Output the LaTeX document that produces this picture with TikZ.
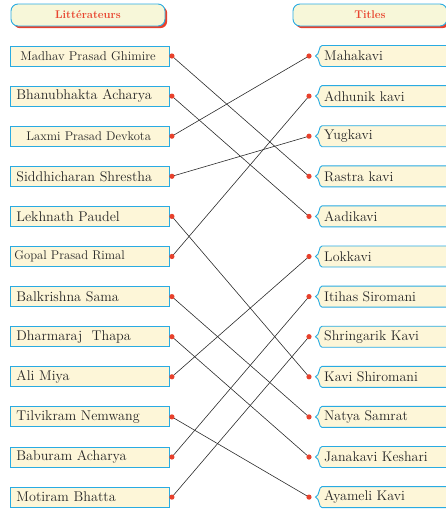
\documentclass[tikz,border=0pt]{standalone}
\usetikzlibrary{shadows}
\definecolor{bord}{HTML}{29ABE2}
\definecolor{cream}{HTML}{FDF6D8}
\definecolor{hcream}{HTML}{F7F7D9}
\definecolor{dotred}{HTML}{E8412C}
\definecolor{titred}{HTML}{E8452F}
\definecolor{conn}{HTML}{2B2B2B}
\begin{document}
\begin{tikzpicture}[x=1pt,y=-1pt,
  lbox/.style={draw=bord, fill=cream, line width=0.9pt, minimum height=20pt,
    align=left, inner ysep=0pt, anchor=west, text=black!85},
  rframe/.style={draw=bord, fill=cream, line width=0.9pt},
  rtext/.style={anchor=west, inner sep=0pt, text=black!85},
  hbox/.style={draw=bord, fill=hcream, line width=0.9pt, rounded corners=7pt,
    minimum width=154pt, minimum height=22pt, inner sep=0pt,
    text=titred,
    drop shadow={shadow xshift=2.2pt, shadow yshift=-2.2pt, fill=dotred, opacity=1}},
  connline/.style={draw=conn, line width=0.6pt},
  dot/.style={fill=dotred}]
\useasboundingbox (0,0) rectangle (446,509);
\clip (0,0) rectangle (446,509);
% headers
\node[hbox, font=\fontsize{11.2}{13}\selectfont\bfseries] (hl) at (88,15) {Littérateurs};
\node[hbox, font=\fontsize{11.2}{13}\selectfont\bfseries] (hr) at (370,15) {Titles};
% left boxes
\foreach \i/\t/\xs/\fs in {
  1/Madhav Prasad Ghimire/10/12.8,
  2/Bhanubhakta Acharya/6/14.1,
  3/Laxmi Prasad Devkota/16/12.6,
  4/Siddhicharan Shrestha/6/14.1,
  5/Lekhnath Paudel/6/14.1,
  6/Gopal Prasad Rimal/4/12.6,
  7/Balkrishna Sama/6/14.1,
  8/Dharmaraj~ Thapa/6/14.1,
  9/Ali Miya/6/14.1,
  10/Tilvikram Nemwang/6/14.1,
  11/Baburam Acharya/6/14.1,
  12/Motiram Bhatta/6/14.1}{
  \pgfmathsetmacro\yy{56+40.1*(\i-1)}
  \pgfmathsetmacro\tw{159-2*\xs}
  \node[lbox, inner xsep=\xs pt, text width=\tw pt, font=\fontsize{\fs}{\fs}\selectfont]
    (l\i) at (10,\yy) {\t};
}
% right boxes
\foreach \i/\t in {
  1/Mahakavi, 2/Adhunik kavi, 3/Yugkavi, 4/Rastra kavi, 5/Aadikavi, 6/Lokkavi,
  7/Itihas Siromani, 8/Shringarik Kavi, 9/Kavi Shiromani, 10/Natya Samrat,
  11/Janakavi Keshari, 12/Ayameli Kavi}{
  \pgfmathsetmacro\yy{56+40.1*(\i-1)}
  \path[rframe] (448,{\yy-10.5}) -- (322,{\yy-10.5})
     .. controls (318.5,{\yy-10.5}) and (320,{\yy-1.5}) .. (315.5,\yy)
     .. controls (320,{\yy+1.5}) and (318.5,{\yy+10.5}) .. (322,{\yy+10.5})
     -- (448,{\yy+10.5});
  \node[rtext, font=\fontsize{14}{16}\selectfont] (r\i) at (324,\yy) {\t};
}
% connectors
\foreach \a/\b in {1/4, 2/5, 3/1, 4/3, 5/9, 6/2, 7/10, 8/11, 9/6, 10/12, 11/7, 12/8}{
  \draw[connline] ([xshift=2pt]l\a.east) -- ([xshift=-15pt]r\b.west);
}
% dots
\foreach \i in {1,...,12}{
  \fill[dot] ([xshift=2pt]l\i.east) circle (2.6pt);
  \fill[dot] ([xshift=-15pt]r\i.west) circle (2.6pt);
}
\end{tikzpicture}
\end{document}
